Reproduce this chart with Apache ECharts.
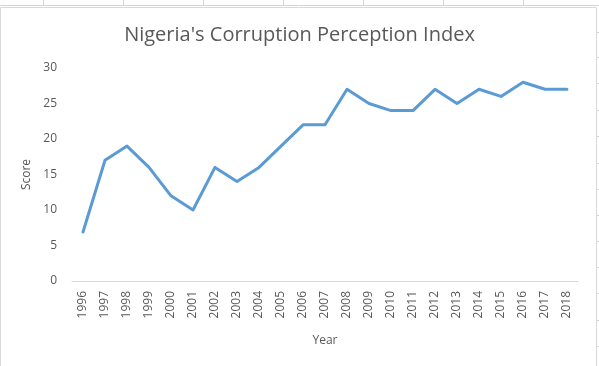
<!DOCTYPE html>
<html><head><meta charset="utf-8">
<script src="https://cdn.jsdelivr.net/npm/echarts@6/dist/echarts.min.js"></script>
<style>html,body{margin:0;padding:0;background:#fff}#c{width:599px;height:366px}</style>
</head><body><div id="c"></div>
<script>
const years = ['1996','1997','1998','1999','2000','2001','2002','2003','2004','2005','2006','2007','2008','2009','2010','2011','2012','2013','2014','2015','2016','2017','2018'];
const scores = [6.9,17,19,16,12,10,16,14,16,19,22,22,27,25,24,24,27,25,27,26,28,27,27];
const yTicks = {min:0,max:30,interval:5};

const chart = echarts.init(document.getElementById('c'), null, {renderer:'canvas'});
const g = [];
// spreadsheet background lines
[43,123,203,283,363,443,523].forEach(x=>g.push({type:'line',shape:{x1:x+0.5,y1:0,x2:x+0.5,y2:6},style:{stroke:'#d4d4d4',lineWidth:1},silent:true}));
g.push({type:'line',shape:{x1:0,y1:5.5,x2:599,y2:5.5},style:{stroke:'#d4d4d4',lineWidth:1},silent:true});
[32,57,83,110,136,163,189,215,241,267,293,320,346].forEach(y=>g.push({type:'line',shape:{x1:597,y1:y+0.5,x2:599,y2:y+0.5},style:{stroke:'#d4d4d4',lineWidth:1},silent:true}));
g.push({type:'rect',shape:{x:0.5,y:7.5,width:596,height:370},style:{fill:'none',stroke:'#d9d9d9',lineWidth:1},silent:true});

chart.setOption({
  animation:false,
  backgroundColor:'#fff',
  graphic:g,
  title:{text:"Nigeria's Corruption Perception Index",left:'center',top:20,
    textStyle:{fontFamily:'Open Sans',fontSize:20,fontWeight:'normal',color:'#595959'}},
  grid:{left:72,right:21,top:68,bottom:85},
  xAxis:{type:'category',data:years,boundaryGap:true,
    name:'Year',nameLocation:'middle',nameGap:54,
    nameTextStyle:{fontFamily:'Open Sans',fontSize:12,color:'#595959'},
    axisLine:{lineStyle:{color:'#d9d9d9',width:1}},axisTick:{show:false},
    axisLabel:{rotate:90,fontFamily:'Open Sans',fontSize:12,color:'#595959',margin:10,interval:0}},
  yAxis:{type:'value',min:yTicks.min,max:yTicks.max,interval:yTicks.interval,
    name:'Score',nameLocation:'middle',nameGap:37,nameRotate:90,
    nameTextStyle:{fontFamily:'Open Sans',fontSize:12,color:'#595959'},
    axisLine:{show:false},axisTick:{show:false},splitLine:{show:false},
    axisLabel:{fontFamily:'Open Sans',fontSize:12,color:'#595959',margin:15}},
  series:[{type:'line',data:scores,symbol:'none',
    lineStyle:{color:'#5B9BD5',width:3,cap:'round',join:'round'}}]
});
</script></body></html>
